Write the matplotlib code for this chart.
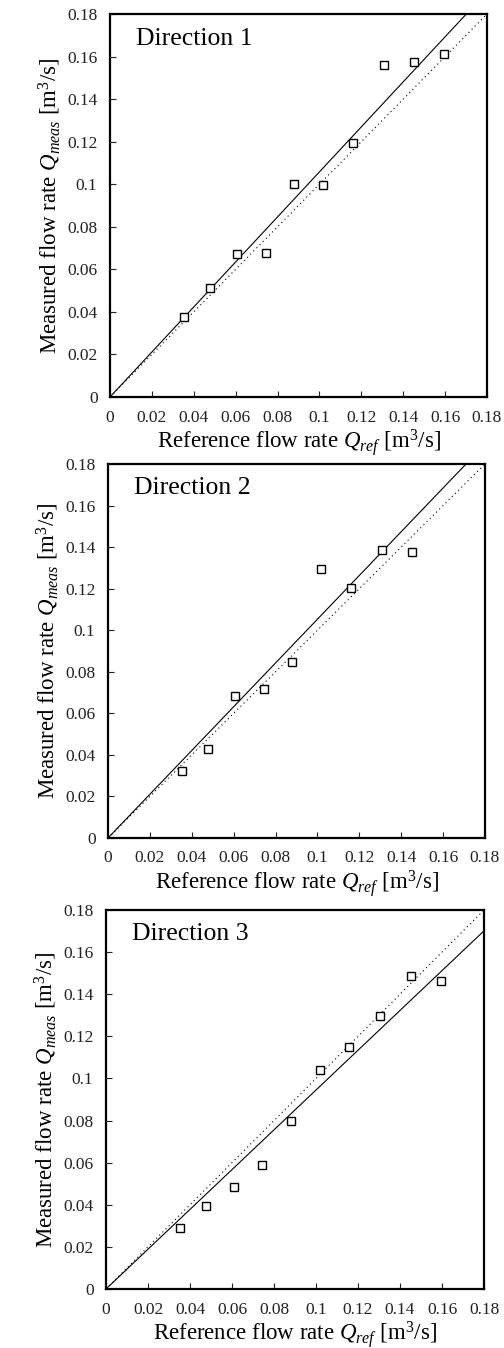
import numpy as np
import matplotlib
matplotlib.use('Agg')
import matplotlib.pyplot as plt

plt.rcParams['font.family'] = ['Liberation Serif', 'DejaVu Serif']
plt.rcParams['mathtext.fontset'] = 'custom'
plt.rcParams['mathtext.rm'] = 'Liberation Serif'
plt.rcParams['mathtext.it'] = 'Liberation Serif:italic'

# Reference flow rates [m3/s]
q_ref_1 = [0.0354, 0.0478, 0.0608, 0.0745, 0.0879, 0.1019, 0.1158, 0.1306, 0.1450, 0.1596]
q_meas_1 = [0.0376, 0.0514, 0.0671, 0.0679, 0.1003, 0.0995, 0.1192, 0.1561, 0.1575, 0.1610]

q_ref_2 = [0.0354, 0.0478, 0.0608, 0.0745, 0.0879, 0.1019, 0.1158, 0.1306, 0.1450]
q_meas_2 = [0.0321, 0.0428, 0.0684, 0.0716, 0.0846, 0.1297, 0.1205, 0.1388, 0.1378]

q_ref_3 = [0.0354, 0.0478, 0.0608, 0.0745, 0.0879, 0.1019, 0.1158, 0.1306, 0.1450, 0.1596]
q_meas_3 = [0.0291, 0.0392, 0.0484, 0.0590, 0.0796, 0.1038, 0.1147, 0.1297, 0.1487, 0.1465]

# slopes of the fitted lines through the origin
fit_slopes = [1.058, 1.053, 0.945]
titles = ['Direction 1', 'Direction 2', 'Direction 3']
ticks = [0, 0.02, 0.04, 0.06, 0.08, 0.1, 0.12, 0.14, 0.16, 0.18]
tick_labels = ['0', '0.02', '0.04', '0.06', '0.08', '0.1', '0.12', '0.14', '0.16', '0.18']

# axes boxes in pixels: left, top, right, bottom
boxes = [(110, 14, 487, 397), (108, 464, 485, 838), (106, 910, 484, 1289)]

W, H = 504, 1348
fig = plt.figure(figsize=(W / 100, H / 100), dpi=100)

data = [(q_ref_1, q_meas_1), (q_ref_2, q_meas_2), (q_ref_3, q_meas_3)]
for (xs, ys), k, title, (l, t, r, b) in zip(data, fit_slopes, titles, boxes):
    ax = fig.add_axes([l / W, 1 - b / H, (r - l) / W, (b - t) / H])
    line_x = np.array([0, 0.2])
    ax.plot(line_x, line_x, color='black', lw=0.8, ls=(0, (1, 3)))
    ax.plot(line_x, k * line_x, '-', color='black', lw=0.8)
    ax.plot(xs, ys, 's', mfc='white', mec='black', ms=6, mew=1.0)
    ax.set_xlim(0, 0.18)
    ax.set_ylim(0, 0.18)
    ax.set_xticks(ticks)
    ax.set_xticklabels(tick_labels)
    ax.set_yticks(ticks)
    ax.set_yticklabels(tick_labels)
    ax.tick_params(direction='in', length=4, width=0.8, labelsize=12.5,
                   colors='#222222', pad=9)
    for s in ax.spines.values():
        s.set_linewidth(1.6)
    ax.set_xlabel(r'Reference flow rate $Q_{ref}$ [m$^3$/s]', fontsize=16.5, labelpad=1)
    ax.set_ylabel(r'Measured flow rate $Q_{meas}$ [m$^3$/s]', fontsize=16.5, labelpad=3)
    ax.text(0.07, 0.92, title, transform=ax.transAxes, fontsize=18.5, va='baseline')

fig.savefig('out.png', dpi=100)
